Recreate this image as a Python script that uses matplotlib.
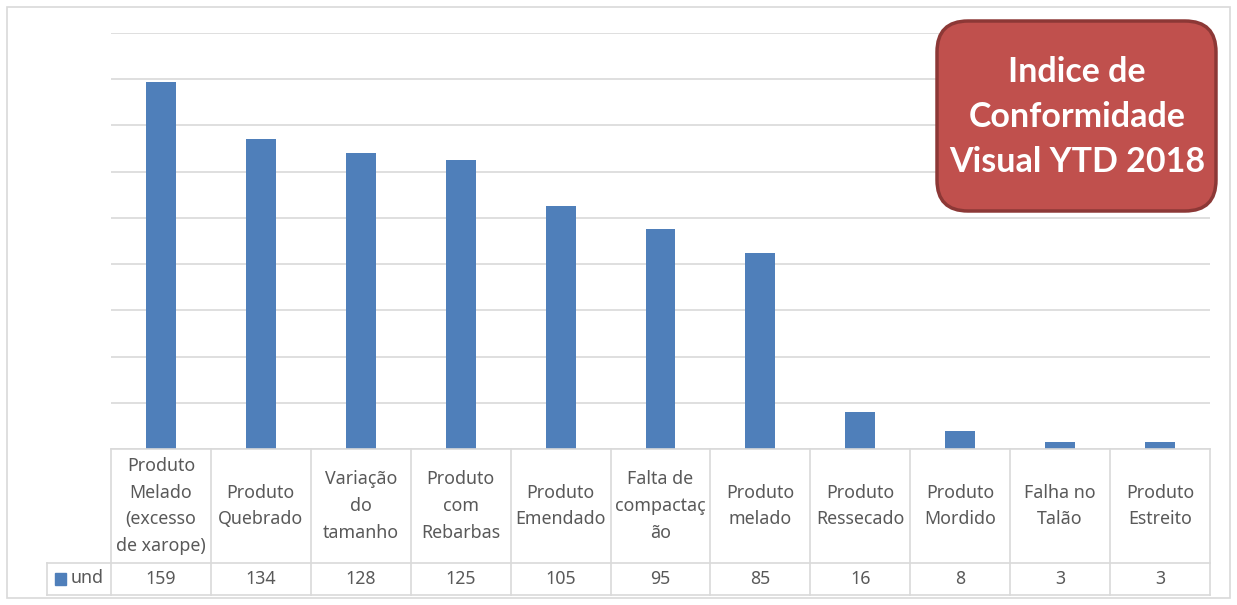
import matplotlib.pyplot as plt
from matplotlib.patches import FancyBboxPatch, Rectangle

# defeitos visuais acumulados no ano
categorias = [
    "Produto\nMelado\n(excesso\nde xarope)",
    "Produto\nQuebrado",
    "Variação\ndo\ntamanho",
    "Produto\ncom\nRebarbas",
    "Produto\nEmendado",
    "Falta de\ncompactaç\não",
    "Produto\nmelado",
    "Produto\nRessecado",
    "Produto\nMordido",
    "Falha no\nTalão",
    "Produto\nEstreito",
]
und = [159, 134, 128, 125, 105, 95, 85, 16, 8, 3, 3]
serie = "und"
titulo = "Indice de\nConformidade\nVisual YTD 2018"

AZUL = "#4F7FBA"
CINZA_TXT = "#595959"
CINZA_LINHA = "#D9D9D9"

W, H = 1237, 605
fig = plt.figure(figsize=(W / 100, H / 100), dpi=100)

def fx(px):
    return px / W

def fy(py):
    return 1 - py / H

# borda externa do gráfico
fig.patches.append(Rectangle((fx(7), fy(598)), fx(1230) - fx(7), fy(7) - fy(598),
                             transform=fig.transFigure, fill=False,
                             edgecolor=CINZA_LINHA, linewidth=1.2))

x0, x1 = 111, 1210
ax = fig.add_axes([fx(x0), fy(449), fx(x1) - fx(x0), fy(33) - fy(449)])
n = len(und)
ax.bar(range(n), und, width=0.3, color=AZUL, zorder=3)
ax.set_xlim(-0.5, n - 0.5)
ax.set_ylim(0, 180)
ax.set_yticks(range(0, 181, 20))
ax.yaxis.grid(True, color=CINZA_LINHA, linewidth=1.2)
ax.set_axisbelow(True)
ax.tick_params(left=False, bottom=False, labelleft=False, labelbottom=False)
for s in ax.spines.values():
    s.set_visible(False)

# tabela de dados abaixo das barras
tb = fig.add_axes([fx(x0), fy(595), fx(x1) - fx(x0), fy(449) - fy(595)])
tb.set_xlim(-0.5, n - 0.5)
tb.set_ylim(146, 0)
tb.axis("off")
col_w = (x1 - x0) / n
xl = -0.5 - (x0 - 47) / col_w
lk = dict(color=CINZA_LINHA, linewidth=1.2, clip_on=False)
tb.plot([-0.5, n - 0.5], [0, 0], **lk)
tb.plot([xl, n - 0.5], [114, 114], **lk)
tb.plot([xl, n - 0.5], [146, 146], **lk)
tb.plot([xl, xl], [114, 146], **lk)
for i in range(n + 1):
    tb.plot([i - 0.5, i - 0.5], [0, 146], **lk)

fonte = ["Noto Sans", "DejaVu Sans"]
for i, (c, v) in enumerate(zip(categorias, und)):
    tb.text(i, 57, c, ha="center", va="center", fontsize=12.8, color=CINZA_TXT,
            linespacing=1.62, family=fonte)
    tb.text(i, 130, str(v), ha="center", va="center", fontsize=12.8,
            color=CINZA_TXT, family=fonte)

# legenda da série na tabela
tb.add_patch(Rectangle((xl + 8 / col_w, 124), 11 / col_w, 12, color=AZUL,
                       clip_on=False))
tb.text(xl + 24 / col_w, 129, serie, ha="left", va="center", fontsize=12.8,
        color=CINZA_TXT, family=fonte)

# caixa do título
caixa = FancyBboxPatch((fx(937), fy(211)), fx(1216) - fx(937), fy(21) - fy(211),
                       boxstyle="round,pad=0,rounding_size=0.025",
                       transform=fig.transFigure, facecolor="#C0504D",
                       edgecolor="#8C3836", linewidth=2.5, mutation_aspect=W / H)
fig.patches.append(caixa)
fig.text(fx(1077), fy(117), titulo, ha="center", va="center", fontsize=24.5,
         fontweight="bold", color="white", family=["Lato", "DejaVu Sans"],
         linespacing=1.5)

fig.savefig("out.png", dpi=100)
